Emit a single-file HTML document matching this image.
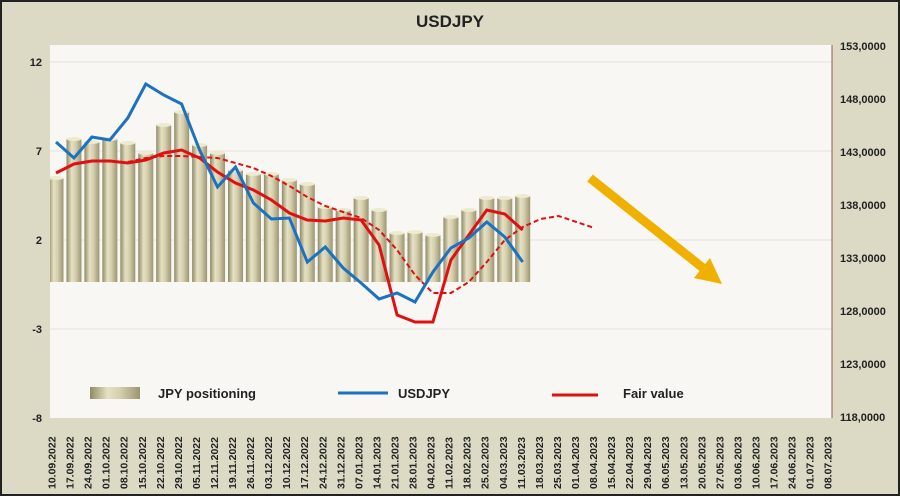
<!DOCTYPE html><html><head><style>body{margin:0}svg{display:block}text{font-family:"Liberation Sans",sans-serif;font-weight:bold;fill:#222}</style></head><body>
<svg width="900" height="496" viewBox="0 0 900 496" xmlns="http://www.w3.org/2000/svg">
<defs><linearGradient id="bg" x1="0" x2="1"><stop offset="0" stop-color="#8f8a66"/><stop offset=".35" stop-color="#e6e1c4"/><stop offset=".6" stop-color="#d5cfae"/><stop offset="1" stop-color="#9b9572"/></linearGradient><clipPath id="pc"><rect x="50" y="45" width="782" height="373"/></clipPath></defs>
<rect x="0" y="0" width="900" height="496" fill="#dcd9c4"/>
<rect x="1" y="1" width="898" height="494" fill="none" stroke="#222" stroke-width="2"/>
<text x="450" y="27" font-size="17" text-anchor="middle">USDJPY</text>
<rect x="50" y="45" width="782" height="373" fill="#f8f7f3"/>
<g stroke="#e2e0d8" stroke-width="1"><line x1="50" y1="62" x2="832" y2="62"/><line x1="50" y1="151" x2="832" y2="151"/><line x1="50" y1="240" x2="832" y2="240"/><line x1="50" y1="329" x2="832" y2="329"/></g>
<line x1="832" y1="45" x2="832" y2="418" stroke="#9a5a50"/>
<g font-size="11"><text x="42" y="66" text-anchor="end">12</text><text x="42" y="155" text-anchor="end">7</text><text x="42" y="244" text-anchor="end">2</text><text x="42" y="333" text-anchor="end">-3</text><text x="42" y="422" text-anchor="end">-8</text>
<text x="840" y="50">153,0000</text><text x="840" y="103">148,0000</text><text x="840" y="156">143,0000</text><text x="840" y="209">138,0000</text><text x="840" y="262">133,0000</text><text x="840" y="315">128,0000</text><text x="840" y="368">123,0000</text><text x="840" y="421">118,0000</text></g>
<g id="bars" clip-path="url(#pc)"></g>
<polyline id="rd" fill="none" stroke="#e01010" stroke-width="2" stroke-dasharray="5,3"/>
<polyline id="rs" fill="none" stroke="#e01010" stroke-width="3"/>
<polyline id="bl" fill="none" stroke="#1c72c0" stroke-width="3"/>
<line x1="590" y1="178" x2="703" y2="268" stroke="#f0b000" stroke-width="9"/>
<polygon points="722,284 694,278 710,258" fill="#f0b000"/>
<rect x="90" y="387" width="50" height="12" fill="url(#bg)"/>
<text x="158" y="398" font-size="13">JPY positioning</text>
<line x1="338" y1="393" x2="388" y2="393" stroke="#1c72c0" stroke-width="3"/>
<text x="398" y="398" font-size="13">USDJPY</text>
<line x1="552" y1="395" x2="598" y2="395" stroke="#e01010" stroke-width="3"/>
<text x="623" y="398" font-size="13">Fair value</text>
<g id="dates" font-size="10.5"></g>
</svg>
<script>
var tops=[178,139,142,139,143,153,125,112,145,153,170,174,174,180,184,207,210,198,210,233,232,235,217,210,198,198,196];
var g=document.getElementById('bars'),s='';
function cx(i){return 56+17.95*i;}
tops.forEach(function(t,i){var x=cx(i)-7.5;s+='<rect x="'+x+'" y="'+t+'" width="15" height="'+(282-t)+'" fill="url(#bg)"/><ellipse cx="'+(x+7.5)+'" cy="'+t+'" rx="7.5" ry="2" fill="#eeeacf"/>';});
g.innerHTML=s;
function pts(a,o){return a.map(function(v,i){return cx(i+(o||0)).toFixed(1)+','+v}).join(' ');}
document.getElementById('bl').setAttribute('points',pts([142,158,137,140,118,84,95,104,150,187,167,203,219,218,262,247,268,283,299,293,302,272,248,238,222,237,262]));
document.getElementById('rs').setAttribute('points',pts([173,164,161,161,163,160,153,150,158,172,183,190,200,213,220,221,218,220,245,315,322,322,260,235,210,214,230]));
document.getElementById('rd').setAttribute('points',pts([162,158,156,156,157,158,163,168,176,186,197,206,212,218,230,250,275,293,293,282,262,240,227,219,216,222,228],4));
var d=new Date(2022,8,10,12),h='';
for(var i=0;i<44;i++){var t=new Date(d.getTime()+i*7*864e5);var str=('0'+t.getDate()).slice(-2)+'.'+('0'+(t.getMonth()+1)).slice(-2)+'.'+t.getFullYear();var x=52+18.05*i+3.5;h+='<text transform="translate('+x.toFixed(1)+',489) rotate(-90)">'+str+'</text>';}
document.getElementById('dates').innerHTML=h;
</script>
</body></html>
